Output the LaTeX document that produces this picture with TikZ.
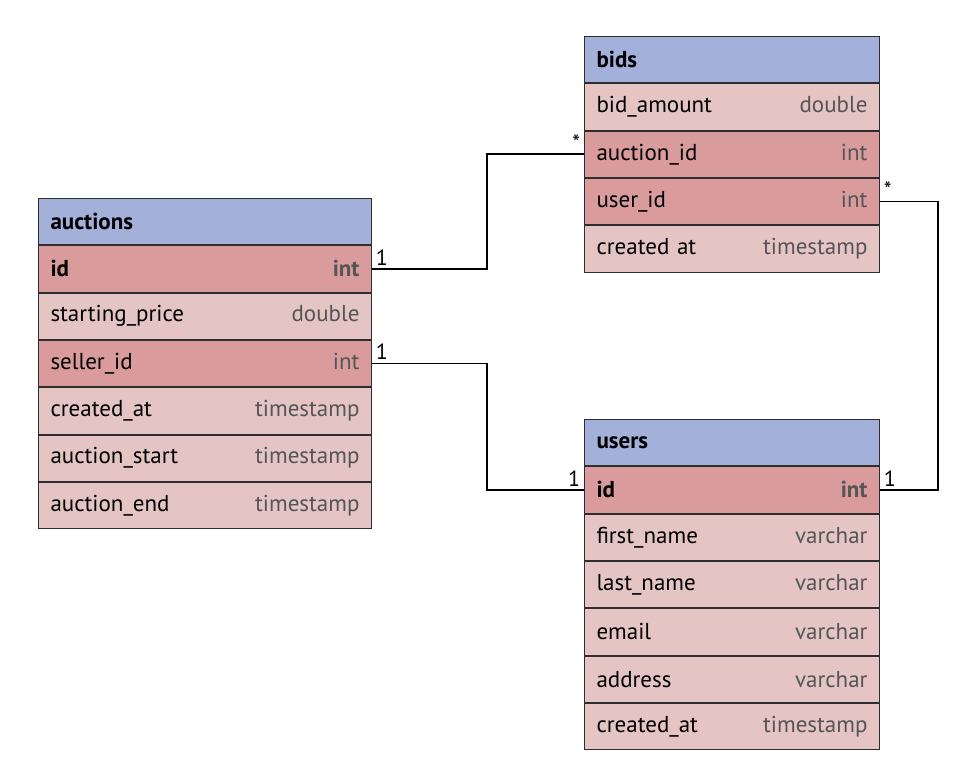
\documentclass[tikz,border=0pt]{standalone}
\usepackage{fontspec}
\setmainfont{PT Sans}
\usepackage{xcolor}
\usetikzlibrary{positioning}

\definecolor{headblue}{HTML}{A3B0DA}
\definecolor{keyred}{HTML}{D99B9B}
\definecolor{rowpink}{HTML}{E5C4C4}
\definecolor{tableborder}{HTML}{2E2E2E}
\definecolor{typegray}{HTML}{555555}

\newcommand{\field}[2]{#1\hfill\textcolor{typegray}{#2}}

\begin{document}
\begin{tikzpicture}[
    x=1pt, y=-1pt,
    node distance=0pt,
    cell/.style={rectangle, draw=tableborder, line width=1pt, minimum height=46.3pt, inner xsep=12pt, inner ysep=0pt, align=left, font=\fontsize{23}{26}\selectfont},
    wide/.style={cell, text width=309pt},
    narrow/.style={cell, text width=271pt},
    header/.style={fill=headblue, font=\fontsize{23}{26}\selectfont\bfseries},
    keyrow/.style={fill=keyred},
    plainrow/.style={fill=rowpink},
    link/.style={line width=1.8pt, draw=black},
    mult/.style={font=\fontsize{22}{24}\selectfont, inner sep=3pt}
]
\useasboundingbox (0,0) rectangle (975,776);

% Left: auctions table
\node[wide, header, anchor=north west] (auctions) at (38,198) {auctions};
\node[wide, keyrow, below=of auctions] (auctions_id) {\textbf{\field{id}{int}}};
\node[wide, plainrow, below=of auctions_id] (auctions_price) {\field{starting\_price}{double}};
\node[wide, keyrow, below=of auctions_price] (auctions_seller) {\field{seller\_id}{int}};
\node[wide, plainrow, below=of auctions_seller] (auctions_created) {\field{created\_at}{timestamp}};
\node[wide, plainrow, below=of auctions_created] (auctions_start) {\field{auction\_start}{timestamp}};
\node[wide, plainrow, below=of auctions_start] (auctions_end) {\field{auction\_end}{timestamp}};

% Top right: bids table
\node[narrow, header, anchor=north west] (bids) at (584,36) {bids};
\node[narrow, plainrow, below=of bids] (bids_amount) {\field{bid\_amount}{double}};
\node[narrow, keyrow, below=of bids_amount] (bids_auction) {\field{auction\_id}{int}};
\node[narrow, keyrow, below=of bids_auction] (bids_user) {\field{user\_id}{int}};
\node[narrow, plainrow, below=of bids_user] (bids_created) {\field{created at}{timestamp}};

% Bottom right: users table
\node[narrow, header, anchor=north west] (users) at (584,419) {users};
\node[narrow, keyrow, below=of users] (users_id) {\textbf{\field{id}{int}}};
\node[narrow, plainrow, below=of users_id] (users_first) {\field{first\_name}{varchar}};
\node[narrow, plainrow, below=of users_first] (users_last) {\field{last\_name}{varchar}};
\node[narrow, plainrow, below=of users_last] (users_email) {\field{email}{varchar}};
\node[narrow, plainrow, below=of users_email] (users_address) {\field{address}{varchar}};
\node[narrow, plainrow, below=of users_address] (users_created) {\field{created\_at}{timestamp}};

% Relations
\draw[link] (auctions_id.east) -- node[mult, at start, above right] {1} ++(115,0)
    |- node[mult, at end, above left] {*} (bids_auction.west);
\draw[link] (auctions_seller.east) -- node[mult, at start, above right] {1} ++(115,0)
    |- node[mult, at end, above left] {1} (users_id.west);
\draw[link] (bids_user.east) -- node[mult, at start, above right] {*} ++(58,0)
    |- node[mult, at end, above right] {1} (users_id.east);

\end{tikzpicture}
\end{document}
